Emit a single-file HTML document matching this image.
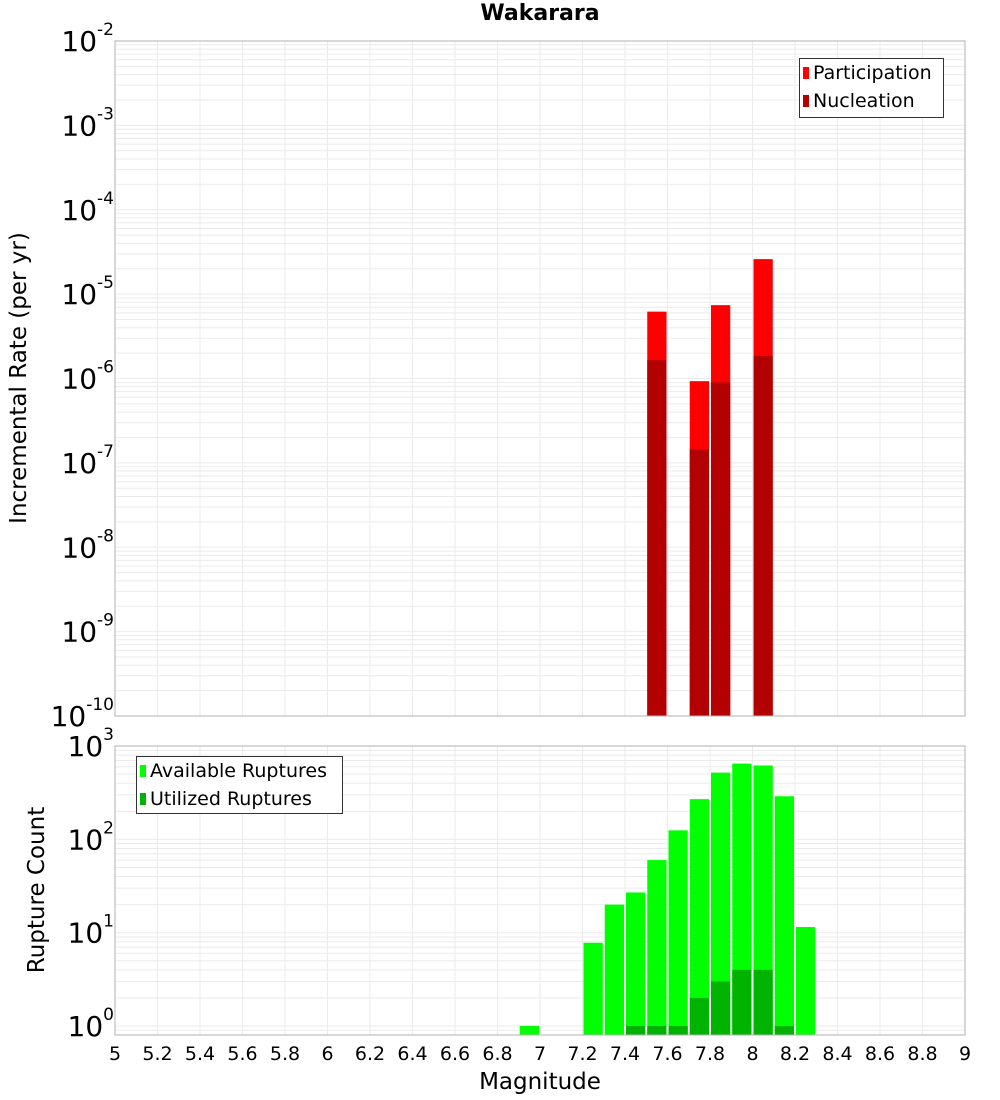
<!DOCTYPE html>
<html><head><meta charset="utf-8"><style>
body{margin:0;background:#fff;}
svg{display:block;font-family:"DejaVu Sans","Liberation Sans",sans-serif;}
</style></head><body>
<svg id="chart" width="1000" height="1100"></svg>
<script>
const topMags=[7.55,7.75,7.85,8.05];
const participation=[6.2e-6,9.3e-7,7.4e-6,2.6e-5];
const nucleation=[1.65e-6,1.45e-7,9e-7,1.85e-6];
const botMags=[6.95,7.25,7.35,7.45,7.55,7.65,7.75,7.85,7.95,8.05,8.15,8.25];
const available=[1,7.8,20,27,60,125,270,520,650,620,290,11.5];
const utilized=[0,0,0,1,1,1,2,3,4,4,1,0];
const xTicks=[5,5.2,5.4,5.6,5.8,6,6.2,6.4,6.6,6.8,7,7.2,7.4,7.6,7.8,8,8.2,8.4,8.6,8.8,9];
const topExps=[-2,-3,-4,-5,-6,-7,-8,-9,-10];
const botExps=[3,2,1,0];

const NS='http://www.w3.org/2000/svg';
const svg=document.getElementById('chart');
function el(t,a,p){const e=document.createElementNS(NS,t);for(const k in a)e.setAttribute(k,a[k]);(p||svg).appendChild(e);return e;}
const X0=115,X1=965;
const xs=m=>X0+(m-5)/4*(X1-X0);
const T0=41,T1=716;
const yT=v=>T0+(-2-Math.log10(v))*(T1-T0)/8;
const B0=746,B1=1035,Bppd=93.3;
const yB=v=>1026-Math.log10(v)*Bppd;

function grid(y0,y1,yfun,dmin,dmax){
  const g=el('g',{});
  
  
  xTicks.forEach(t=>{el('line',{x1:xs(t),x2:xs(t),y1:y0,y2:y1,stroke:'#ebebeb','stroke-width':1},g);});
  for(let d=dmin;d<=dmax;d++)for(let k=1;k<10;k++){const y=yfun(k*Math.pow(10,d));if(y>=y0&&y<=y1)el('line',{x1:X0,x2:X1,y1:y,y2:y,stroke:'#ebebeb','stroke-width':1},g);}
}
grid(T0,T1,yT,-10,-3);
grid(B0,B1,yB,-1,2);

topMags.forEach((m,i)=>{
  const x=xs(m-0.05)+1,w=xs(m+0.05)-xs(m-0.05)-2;
  let r=el('rect',{x:x,y:yT(participation[i]),width:w,height:T1-yT(participation[i]),fill:'#ff0000'});
  
  
  r=el('rect',{x:x,y:yT(nucleation[i]),width:w,height:T1-yT(nucleation[i]),fill:'#b30000'});
  
  
});
botMags.forEach((m,i)=>{
  const x=xs(m-0.05)+1,w=xs(m+0.05)-xs(m-0.05)-2;
  let r=el('rect',{x:x,y:yB(available[i]),width:w,height:B1-yB(available[i]),fill:'#00ff00'});
  
  
  if(utilized[i]>0){r=el('rect',{x:x,y:yB(utilized[i]),width:w,height:B1-yB(utilized[i]),fill:'#00b300'});
  
  }
});
el('rect',{x:X0,y:T0,width:X1-X0,height:T1-T0,fill:'none',stroke:'#b0b0b0'});
el('rect',{x:X0,y:B0,width:X1-X0,height:B1-B0,fill:'none',stroke:'#b0b0b0'});

function expLabel(y,e,nm){
  const t=el('text',{x:114,y:y+10,'text-anchor':'end','font-size':28,fill:'#000'});
  
  
  const a=document.createElementNS(NS,'tspan');a.textContent='10';t.appendChild(a);
  const b=document.createElementNS(NS,'tspan');b.setAttribute('dy','-16');b.setAttribute('font-size','17');b.textContent=String(e);t.appendChild(b);
}
topExps.forEach(e=>expLabel(yT(Math.pow(10,e)),e,'y-tick-label'));
botExps.forEach(e=>expLabel(yB(Math.pow(10,e)),e,'y-tick-label-bottom'));
xTicks.forEach(t=>{const tx=el('text',{x:xs(t),y:1060,'text-anchor':'middle','font-size':19});tx.textContent=String(t);
  
  });
</script>
<div style="position:absolute;left:0;top:0;width:1000px;height:1100px;font-family:'DejaVu Sans','Liberation Sans',sans-serif;pointer-events:none">
<div style="position:absolute;left:0;width:1080px;top:1px;text-align:center;font-weight:bold;font-size:22px">Wakarara</div>
<div style="position:absolute;left:19px;top:378px;transform:translate(-50%,-50%) rotate(-90deg);white-space:nowrap;font-size:23px">Incremental Rate (per yr)</div>
<div style="position:absolute;left:37px;top:890px;transform:translate(-50%,-50%) rotate(-90deg);white-space:nowrap;font-size:23px">Rupture Count</div>
<div style="position:absolute;left:540px;top:1069px;transform:translateX(-50%);font-size:23px">Magnitude</div>
<div style="position:absolute;left:799px;top:58px;width:143px;height:58px;border:1px solid #333;background:#fff;font-size:19px;line-height:28px">
 <div style="padding-left:3px;white-space:nowrap"><span style="display:inline-block;width:6px;height:12px;background:#f00;margin-right:4px"></span>Participation</div>
 <div style="padding-left:3px;white-space:nowrap"><span style="display:inline-block;width:6px;height:12px;background:#b30000;margin-right:4px"></span>Nucleation</div>
</div>
<div style="position:absolute;left:136px;top:756px;width:205px;height:56px;border:1px solid #333;background:#fff;font-size:19px;line-height:28px">
 <div style="padding-left:3px;white-space:nowrap"><span style="display:inline-block;width:6px;height:12px;background:#0f0;margin-right:4px"></span>Available Ruptures</div>
 <div style="padding-left:3px;white-space:nowrap"><span style="display:inline-block;width:6px;height:12px;background:#00b300;margin-right:4px"></span>Utilized Ruptures</div>
</div>
</div>
</body></html>
